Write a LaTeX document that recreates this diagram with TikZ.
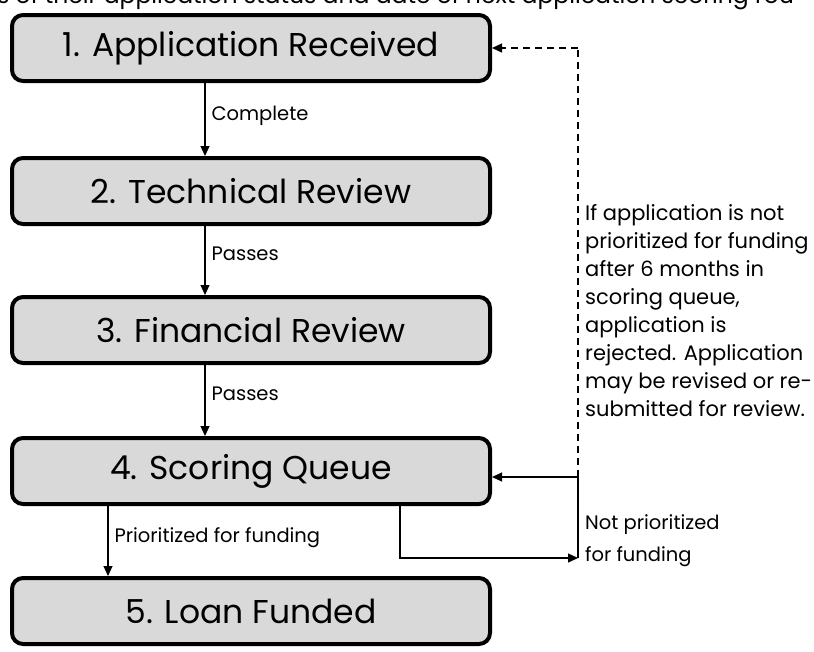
\documentclass[tikz,border=0pt]{standalone}
\usepackage{fontspec}
\setmainfont{Poppins}
\usetikzlibrary{arrows.meta}
\definecolor{boxgray}{HTML}{D9D9D9}
\tikzset{
  stage/.style={draw=black, line width=4pt, fill=boxgray, rounded corners=11pt,
    minimum width=478pt, minimum height=66pt, inner sep=0pt,
    font=\fontsize{33}{36}\selectfont},
  arr/.style={line width=1.2pt, -{Triangle[length=10pt,width=9pt]}},
  plainline/.style={line width=1.2pt},
  dashline/.style={line width=1.3pt, dash pattern=on 7pt off 5pt},
  lbl/.style={font=\fontsize{19.5}{22}\selectfont, inner sep=0pt, anchor=west},
  side/.style={font=\fontsize{21}{28}\selectfont, inner sep=0pt, anchor=north west, align=left}
}
\begin{document}
\begin{tikzpicture}[x=1pt,y=-1pt]
\useasboundingbox (0,0) rectangle (814,651);
\node[font=\fontsize{23.5}{26}\selectfont, inner sep=0pt, anchor=base west] (top) at (-3,3) {s of their application status and date of next application scoring rou};
\node[stage] (b1) at (251,48) {1. Application Received};
\node[stage] (b2) at (251,191) {2. Technical Review};
\node[stage] (b3) at (251,330) {3. Financial Review};
\node[stage] (b4) at (251,471) {4. Scoring Queue};
\node[stage] (b5) at (251,611) {5. Loan Funded};
\draw[arr] ([xshift=-46pt]b1.south) -- node[lbl, pos=0.45, xshift=6pt, anchor=west] (l1) {Complete} ([xshift=-46pt]b2.north);
\draw[arr] ([xshift=-46pt]b2.south) -- node[lbl, pos=0.4, xshift=6pt, anchor=west] (l2) {Passes} ([xshift=-46pt]b3.north);
\draw[arr] ([xshift=-46pt]b3.south) -- node[lbl, pos=0.4, xshift=6pt, anchor=west] (l3) {Passes} ([xshift=-46pt]b4.north);
\draw[arr] ([xshift=-143pt]b4.south) -- node[lbl, pos=0.45, xshift=6pt, anchor=west] (l4) {Prioritized for funding} ([xshift=-143pt]b5.north);
\coordinate (c1) at (578,558);
\coordinate (c2) at (578,477);
\coordinate (c3) at (578,48);
\draw[arr] ([xshift=149pt]b4.south) |- (c1);
\draw[plainline] (c1) -- (c2);
\draw[arr] (c2) -- (b4.east |- c2);
\draw[dashline] (c2) -- (c3);
\draw[arr, dashline] (c3) -- (b1.east |- c3);
\node[lbl] (np1) at (585,525) {Not prioritized};
\node[lbl] (np2) at (585,557) {for funding};
\node[side] (note) at (585,204) {If application is not\\prioritized for funding\\after 6 months in\\scoring queue,\\application is\\rejected. Application\\may be revised or re-\\submitted for review.};
\end{tikzpicture}
\end{document}
